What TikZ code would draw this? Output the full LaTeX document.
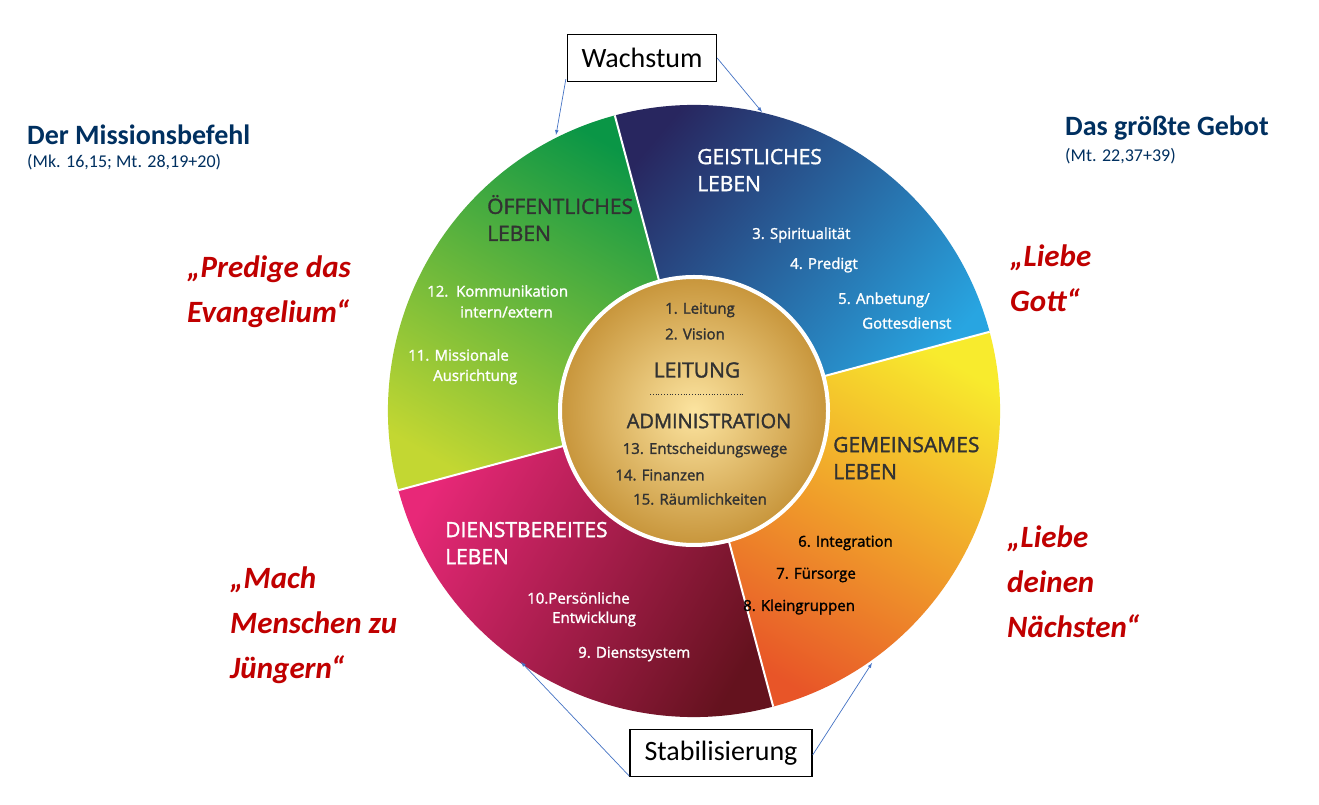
\documentclass[tikz,border=0pt]{standalone}
\usepackage{fontspec}
\setmainfont{Carlito}
\newfontfamily\wheelfont[FakeBold=1.6]{Open Sans}
\begin{document}
\begin{tikzpicture}[x=1pt,y=1pt,
  lbl/.style={anchor=west,inner sep=0pt,font=\wheelfont\fontsize{15}{18}\selectfont},
  head/.style={anchor=west,inner sep=0pt,align=left,font=\wheelfont\fontsize{21}{27}\selectfont},
  quote/.style={anchor=west,inner sep=0pt,align=left,text=qred,font=\bfseries\itshape\fontsize{31}{45}\selectfont},
  title/.style={anchor=west,inner sep=0pt,text=tblue,font=\bfseries\fontsize{28}{30}\selectfont},
  sub/.style={anchor=west,inner sep=0pt,text=tblue,font=\fontsize{18}{20}\selectfont},
  box/.style={draw=black,line width=1.3pt,inner xsep=10pt,inner ysep=6pt,font=\fontsize{28}{30}\selectfont},
  arr/.style={draw=arrc,line width=0.7pt,-latex},
  sep/.style={draw=white,line width=2pt}]
\definecolor{arrc}{RGB}{68,114,196}
\definecolor{qred}{RGB}{192,0,0}
\definecolor{tblue}{RGB}{0,48,96}
\useasboundingbox (0,0) rectangle (1319,805);
\fill[white] (0,0) rectangle (1319,805);
\coordinate (c) at (694,{805-411});
\definecolor{gdark}{RGB}{10,150,70}\definecolor{glight}{RGB}{195,215,50}
\definecolor{bdark}{RGB}{40,38,95}\definecolor{blight}{RGB}{40,165,225}
\definecolor{ylight}{RGB}{248,235,45}\definecolor{ydark}{RGB}{232,85,40}
\definecolor{rlight}{RGB}{232,40,120}\definecolor{rdark}{RGB}{100,18,30}
\definecolor{goldl}{RGB}{252,228,160}\definecolor{goldd}{RGB}{200,150,60}
\definecolor{txt}{RGB}{50,50,50}
% sectors
\shade[top color=gdark,bottom color=glight,shading angle=-30] (c) -- ++(105:306) arc[start angle=105,end angle=195,radius=306] -- cycle;
\shade[top color=bdark,bottom color=blight,shading angle=50] (c) -- ++(15:306) arc[start angle=15,end angle=105,radius=306] -- cycle;
\shade[top color=ylight,bottom color=ydark,shading angle=-30] (c) -- ++(-75:306) arc[start angle=-75,end angle=15,radius=306] -- cycle;
\shade[top color=rlight,bottom color=rdark,shading angle=60] (c) -- ++(195:306) arc[start angle=195,end angle=285,radius=306] -- cycle;
\foreach \a in {15,105,195,285} \draw[sep] (c) -- ++(\a:306);
% inner circle
\shade[inner color=goldl,outer color=goldd] (c) circle[radius=133];
\draw[white,line width=4pt] (c) circle[radius=134];
% inner texts
\begin{scope}[every node/.style={inner sep=0pt,text=txt,font=\wheelfont\fontsize{15}{18}\selectfont}]
\node (i1) at (700,{805-310}) {1. Leitung};
\node (i2) at (695,{805-334}) {2. Vision};
\node[font=\wheelfont\fontsize{21}{22}\selectfont] (lt) at (697,{805-370}) {LEITUNG};
\draw[txt,line width=0.8pt,dotted] (650,{805-394}) -- (745,{805-394});
\node[font=\wheelfont\fontsize{20}{22}\selectfont] (ad) at (709,{805-421}) {ADMINISTRATION};
\node (i13) at (705,{805-450}) {13. Entscheidungswege};
\node (i14) at (660,{805-475}) {14. Finanzen};
\node (i15) at (700,{805-499}) {15. Räumlichkeiten};
\end{scope}
% blue
\node[head,text=white] (hb) at (697,{805-170}) {GEISTLICHES\\LEBEN};
\node[lbl,text=white] (b3) at (752,{805-235}) {3. Spiritualität};
\node[lbl,text=white] (b4) at (790,{805-265}) {4. Predigt};
\node[lbl,text=white] (b5) at (838,{805-300}) {5. Anbetung/};
\node[lbl,text=white] (b5b) at (862,{805-323}) {Gottesdienst};
% green
\node[head,text=txt] (hg) at (487,{805-218}) {ÖFFENTLICHES\\LEBEN};
\node[lbl,text=white] (g12) at (427,{805-291}) {12.\ \ Kommunikation};
\node[lbl,text=white] (g12b) at (460,{805-312}) {intern/extern};
\node[lbl,text=white] (g11) at (408,{805-355}) {11. Missionale};
\node[lbl,text=white] (g11b) at (433,{805-377}) {Ausrichtung};
% yellow
\node[head,text=txt] (hy) at (833,{805-458}) {GEMEINSAMES\\LEBEN};
\node[lbl,text=black] (y6) at (798,{805-543}) {6. Integration};
\node[lbl,text=black] (y7) at (776,{805-575}) {7. Fürsorge};
\node[lbl,text=black] (y8) at (743,{805-607}) {8. Kleingruppen};
% red
\node[head,text=white] (hr) at (445,{805-543}) {DIENSTBEREITES\\LEBEN};
\node[lbl,text=white] (r10) at (527,{805-598}) {10.Persönliche};
\node[lbl,text=white] (r10b) at (552,{805-619}) {Entwicklung};
\node[lbl,text=white] (r9) at (578,{805-654}) {9. Dienstsystem};
% outer texts
\node[title] (t1) at (27,{805-135}) {Der Missionsbefehl};
\node[sub] (s1) at (27,{805-162}) {(Mk. 16,15; Mt. 28,19+20)};
\node[title] (t2) at (1065,{805-128}) {Das größte Gebot};
\node[sub] (s2) at (1065,{805-156}) {(Mt. 22,37+39)};
\node[quote] (q1) at (187,{805-292}) {„Predige das\\Evangelium“};
\node[quote] (q2) at (1010,{805-278}) {„Liebe\\Gott“};
\node[quote] (q3) at (230,{805-625}) {„Mach\\Menschen zu\\Jüngern“};
\node[quote] (q4) at (1007,{805-582}) {„Liebe\\deinen\\Nächsten“};
% boxes
\node[box,minimum width=149pt,minimum height=47pt] (w) at (642,{805-58}) {Wachstum};
\node[box,minimum width=182pt,minimum height=47pt] (st) at (721,{805-753}) {Stabilisierung};
\coordinate (wa) at (556,{805-135});
\coordinate (wb) at (762,{805-112});
\coordinate (sa) at (521,{805-662});
\coordinate (sb) at (872,{805-663});
\draw[arr] ([xshift=-1pt,yshift=3pt]w.south west) -- (wa);
\draw[arr] ([yshift=0pt]w.east) -- (wb);
\draw[arr] ([yshift=1pt]st.south west) -- (sa);
\draw[arr] ([yshift=-2pt]st.east) -- (sb);
\end{tikzpicture}
\end{document}
